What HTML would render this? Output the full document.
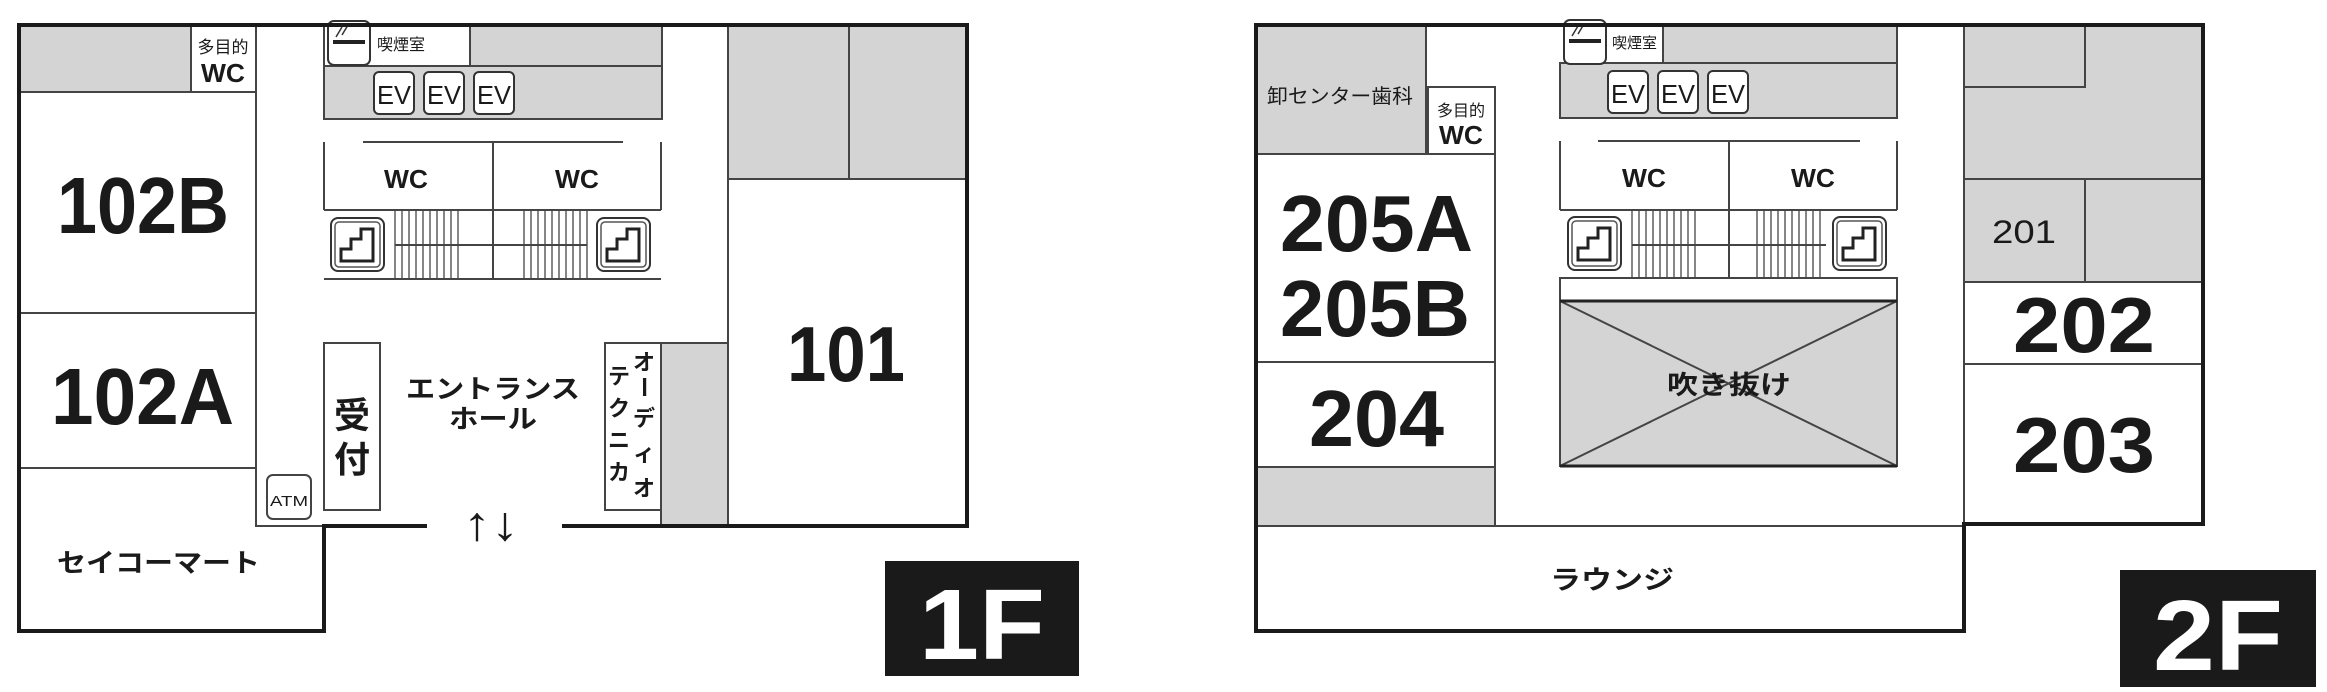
<!DOCTYPE html>
<html><head><meta charset="utf-8"><style>
html,body{margin:0;padding:0;background:#fff;}
svg{display:block;}
text{font-family:"Liberation Sans","Noto Sans CJK JP",sans-serif;fill:#1a1a1a;}
</style></head><body>
<svg width="2327" height="692" viewBox="0 0 2327 692" xmlns="http://www.w3.org/2000/svg">
<defs>
<g id="stair">
<rect x="0" y="0" width="53" height="53" rx="7" fill="#fff" stroke="#333" stroke-width="2"/>
<rect x="4" y="4" width="45" height="45" rx="4" fill="none" stroke="#555" stroke-width="1.5"/>
<path d="M10 43 V31 H20 V21 H30 V11 H42 V43 Z" fill="none" stroke="#222" stroke-width="3"/>
</g>
<g id="hatch" stroke="#444" stroke-width="1.3">
<line x1="0" y1="0" x2="0" y2="68"/><line x1="7" y1="0" x2="7" y2="68"/><line x1="14" y1="0" x2="14" y2="68"/><line x1="21" y1="0" x2="21" y2="68"/><line x1="28" y1="0" x2="28" y2="68"/><line x1="35" y1="0" x2="35" y2="68"/><line x1="42" y1="0" x2="42" y2="68"/><line x1="49" y1="0" x2="49" y2="68"/><line x1="56" y1="0" x2="56" y2="68"/><line x1="63" y1="0" x2="63" y2="68"/>
</g>
<g id="smoke">
<rect x="0" y="0" width="42" height="44" rx="6" fill="#fff" stroke="#333" stroke-width="2"/>
<line x1="5" y1="21" x2="37" y2="21" stroke="#222" stroke-width="4"/>
<path d="M8 16 L14 6 M14 14 L20 4" stroke="#333" stroke-width="1.5" fill="none"/>
</g>
<g id="ev">
<rect x="0" y="0" width="40" height="42" rx="5" fill="#fff" stroke="#333" stroke-width="2"/>
<text x="20" y="32" font-size="26" text-anchor="middle" textLength="34" lengthAdjust="spacingAndGlyphs">EV</text>
</g>
</defs>

<!-- ================= 1F ================= -->
<g stroke="#444" stroke-width="2">
<rect x="19" y="25" width="172" height="67" fill="#d4d4d4"/>
<rect x="191" y="25" width="65" height="67" fill="#fff"/>
<rect x="19" y="92" width="237" height="221" fill="#fff"/>
<rect x="19" y="313" width="237" height="155" fill="#fff"/>
<polyline points="19,468 256,468 256,526 324,526 324,631" fill="none"/>
<rect x="324" y="25" width="146" height="41" fill="#fff"/>
<rect x="470" y="25" width="192" height="41" fill="#d4d4d4"/>
<rect x="324" y="66" width="338" height="53" fill="#d4d4d4"/>
<rect x="728" y="25" width="121" height="154" fill="#d4d4d4"/>
<rect x="849" y="25" width="118" height="154" fill="#d4d4d4"/>
<rect x="728" y="179" width="239" height="347" fill="#fff"/>
<rect x="661" y="343" width="67" height="183" fill="#d4d4d4"/>
<rect x="605" y="343" width="56" height="167" fill="#fff"/>
<rect x="324" y="343" width="56" height="167" fill="#fff"/>
<rect x="267" y="475" width="44" height="44" rx="6" fill="#fff"/>
<!-- WC block -->
<line x1="363" y1="142" x2="623" y2="142"/>
<line x1="324" y1="142" x2="324" y2="210"/>
<line x1="661" y1="142" x2="661" y2="210"/>
<line x1="324" y1="210" x2="661" y2="210"/>
<line x1="493" y1="142" x2="493" y2="279"/>
<line x1="324" y1="279" x2="661" y2="279"/>
<line x1="395" y1="245" x2="587" y2="245"/>
</g>
<use href="#hatch" x="395" y="210"/>
<use href="#hatch" x="524" y="210"/>
<use href="#stair" x="331" y="218"/>
<use href="#stair" x="597" y="218"/>
<use href="#smoke" x="328" y="21"/>
<use href="#ev" x="374" y="72"/>
<use href="#ev" x="424" y="72"/>
<use href="#ev" x="474" y="72"/>
<!-- outer walls 1F -->
<g stroke="#1a1a1a" stroke-width="4" fill="none">
<line x1="19" y1="25" x2="967" y2="25"/>
<polyline points="19,23 19,631 324,631 324,526 427,526"/>
<polyline points="562,526 967,526 967,23"/>
</g>
<!-- texts 1F -->
<text x="377" y="50" font-size="16" fill="#555">喫煙室</text>
<text x="223" y="53" font-size="17" text-anchor="middle">多目的</text>
<text x="223" y="82" font-size="26" font-weight="bold" text-anchor="middle" textLength="44" lengthAdjust="spacingAndGlyphs">WC</text>
<text x="406" y="188" font-size="26" font-weight="bold" text-anchor="middle" textLength="44" lengthAdjust="spacingAndGlyphs">WC</text>
<text x="577" y="188" font-size="26" font-weight="bold" text-anchor="middle" textLength="44" lengthAdjust="spacingAndGlyphs">WC</text>
<text x="57" y="233" font-size="80" font-weight="bold" textLength="172" lengthAdjust="spacingAndGlyphs">102B</text>
<text x="51" y="424" font-size="80" font-weight="bold" textLength="183" lengthAdjust="spacingAndGlyphs">102A</text>
<text x="787" y="381" font-size="78" font-weight="bold" textLength="118" lengthAdjust="spacingAndGlyphs">101</text>
<text x="493" y="398" font-size="26" font-weight="bold" text-anchor="middle" textLength="174" lengthAdjust="spacingAndGlyphs">エントランス</text>
<text x="493" y="428" font-size="26" font-weight="bold" text-anchor="middle" textLength="88" lengthAdjust="spacingAndGlyphs">ホール</text>
<text x="57" y="572" font-size="26" font-weight="bold" textLength="203" lengthAdjust="spacingAndGlyphs">セイコーマート</text>
<text x="352" y="428" font-size="36" font-weight="bold" text-anchor="middle">受</text>
<text x="352" y="472" font-size="36" font-weight="bold" text-anchor="middle">付</text>
<text x="644" y="370" font-size="22" font-weight="bold" text-anchor="middle">オ</text>
<text x="644" y="395" font-size="22" font-weight="bold" text-anchor="middle" transform="rotate(90 644 387)">ー</text>
<text x="644" y="426" font-size="22" font-weight="bold" text-anchor="middle">デ</text>
<text x="644" y="461" font-size="22" font-weight="bold" text-anchor="middle">ィ</text>
<text x="644" y="496" font-size="22" font-weight="bold" text-anchor="middle">オ</text>
<text x="619" y="384" font-size="22" font-weight="bold" text-anchor="middle">テ</text>
<text x="619" y="416" font-size="22" font-weight="bold" text-anchor="middle">ク</text>
<text x="619" y="448" font-size="22" font-weight="bold" text-anchor="middle">ニ</text>
<text x="619" y="480" font-size="22" font-weight="bold" text-anchor="middle">カ</text>
<text x="289" y="506" font-size="15" text-anchor="middle" textLength="38" lengthAdjust="spacingAndGlyphs">ATM</text>
<text x="491" y="540" font-size="48" text-anchor="middle" textLength="56" lengthAdjust="spacingAndGlyphs">↑↓</text>
<rect x="885" y="561" width="194" height="115" fill="#1a1a1a"/>
<text x="982" y="659" font-size="100" font-weight="bold" text-anchor="middle" style="fill:#fff" textLength="126" lengthAdjust="spacingAndGlyphs">1F</text>

<!-- ================= 2F ================= -->
<g stroke="#444" stroke-width="2">
<rect x="1256" y="25" width="170" height="129" fill="#d4d4d4"/>
<rect x="1428" y="87" width="67" height="67" fill="#fff"/>
<rect x="1256" y="154" width="239" height="208" fill="#fff"/>
<rect x="1256" y="362" width="239" height="105" fill="#fff"/>
<rect x="1256" y="467" width="239" height="59" fill="#d4d4d4"/>
<rect x="1256" y="526" width="708" height="105" fill="#fff"/>
<rect x="1565" y="25" width="98" height="38" fill="#fff"/>
<rect x="1663" y="25" width="234" height="38" fill="#d4d4d4"/>
<rect x="1560" y="63" width="337" height="55" fill="#d4d4d4"/>
<rect x="1964" y="25" width="239" height="257" fill="#d4d4d4"/>
<polyline points="1964,87 2085,87 2085,25" fill="none"/>
<line x1="1964" y1="179" x2="2203" y2="179"/>
<line x1="2085" y1="179" x2="2085" y2="282"/>
<rect x="1964" y="282" width="239" height="82" fill="#fff"/>
<rect x="1964" y="364" width="239" height="160" fill="#fff"/>
<line x1="1598" y1="141" x2="1860" y2="141"/>
<line x1="1560" y1="141" x2="1560" y2="210"/>
<line x1="1897" y1="141" x2="1897" y2="210"/>
<line x1="1560" y1="210" x2="1897" y2="210"/>
<line x1="1729" y1="141" x2="1729" y2="278"/>
<line x1="1632" y1="245" x2="1826" y2="245"/>
<rect x="1560" y="278" width="337" height="23" fill="#fff"/>
<rect x="1560" y="301" width="337" height="165" fill="#d4d4d4"/>
<line x1="1560" y1="301" x2="1897" y2="466"/>
<line x1="1897" y1="301" x2="1560" y2="466"/>
</g>
<line x1="1560" y1="301" x2="1897" y2="301" stroke="#222" stroke-width="3"/>
<line x1="1560" y1="466" x2="1897" y2="466" stroke="#222" stroke-width="3"/>
<use href="#hatch" x="1632" y="210"/>
<use href="#hatch" x="1757" y="210"/>
<use href="#stair" x="1568" y="217"/>
<use href="#stair" x="1833" y="217"/>
<use href="#smoke" x="1564" y="20"/>
<use href="#ev" x="1608" y="71"/>
<use href="#ev" x="1658" y="71"/>
<use href="#ev" x="1708" y="71"/>
<g stroke="#1a1a1a" stroke-width="4" fill="none">
<line x1="1256" y1="25" x2="2203" y2="25"/>
<polyline points="1256,23 1256,631 1964,631 1964,524 2203,524 2203,23"/>
</g>
<text x="1612" y="48" font-size="15" fill="#555">喫煙室</text>
<text x="1340" y="103" font-size="20" fill="#333" text-anchor="middle" textLength="146" lengthAdjust="spacingAndGlyphs">卸センター歯科</text>
<text x="1461" y="116" font-size="16" text-anchor="middle">多目的</text>
<text x="1461" y="144" font-size="26" font-weight="bold" text-anchor="middle" textLength="44" lengthAdjust="spacingAndGlyphs">WC</text>
<text x="1644" y="187" font-size="26" font-weight="bold" text-anchor="middle" textLength="44" lengthAdjust="spacingAndGlyphs">WC</text>
<text x="1813" y="187" font-size="26" font-weight="bold" text-anchor="middle" textLength="44" lengthAdjust="spacingAndGlyphs">WC</text>
<text x="1280" y="251" font-size="80" font-weight="bold" textLength="193" lengthAdjust="spacingAndGlyphs">205A</text>
<text x="1280" y="336" font-size="80" font-weight="bold" textLength="190" lengthAdjust="spacingAndGlyphs">205B</text>
<text x="1309" y="446" font-size="80" font-weight="bold" textLength="135" lengthAdjust="spacingAndGlyphs">204</text>
<text x="2024" y="243" font-size="32" text-anchor="middle" textLength="64" lengthAdjust="spacingAndGlyphs">201</text>
<text x="2013" y="352" font-size="78" font-weight="bold" textLength="142" lengthAdjust="spacingAndGlyphs">202</text>
<text x="2013" y="472" font-size="78" font-weight="bold" textLength="142" lengthAdjust="spacingAndGlyphs">203</text>
<text x="1729" y="394" font-size="26" font-weight="bold" text-anchor="middle" textLength="124" lengthAdjust="spacingAndGlyphs">吹き抜け</text>
<text x="1612" y="589" font-size="26" font-weight="bold" text-anchor="middle" textLength="124" lengthAdjust="spacingAndGlyphs">ラウンジ</text>
<rect x="2120" y="570" width="196" height="117" fill="#1a1a1a"/>
<text x="2218" y="670" font-size="100" font-weight="bold" text-anchor="middle" style="fill:#fff" textLength="130" lengthAdjust="spacingAndGlyphs">2F</text>
</svg>
</body></html>
